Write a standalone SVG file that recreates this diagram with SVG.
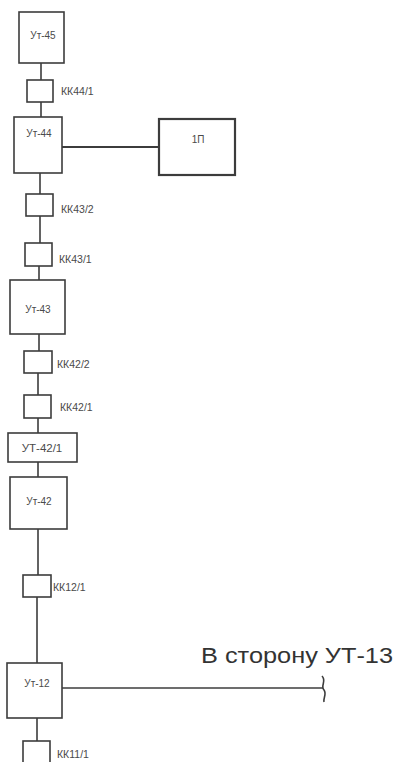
<svg xmlns="http://www.w3.org/2000/svg" width="398" height="762" viewBox="0 0 398 762">
<style>
.box{fill:#ffffff;stroke:#3c3c3c;stroke-width:1.6}
.ln{fill:none;stroke:#3c3c3c;stroke-width:1.6}
.t{font-family:"Liberation Sans",Arial,sans-serif;font-size:10px;fill:#4a4a4a;text-anchor:middle}
.lb{font-family:"Liberation Sans",Arial,sans-serif;font-size:10.5px;fill:#4a4a4a}
.big{font-family:"Liberation Sans",Arial,sans-serif;font-size:22px;fill:#333333}
</style>
<rect width="398" height="762" fill="#ffffff"/>
<g id="connectors">
<line class="ln" x1="41" y1="63" x2="41" y2="80"/>
<line class="ln" x1="41" y1="102" x2="41" y2="117"/>
<line class="ln" x1="62" y1="147" x2="159" y2="147" style="stroke-width:2"/>
<line class="ln" x1="40" y1="173" x2="40" y2="194"/>
<line class="ln" x1="40" y1="216" x2="40" y2="243"/>
<line class="ln" x1="39" y1="266" x2="39" y2="280"/>
<line class="ln" x1="39" y1="334" x2="39" y2="351"/>
<line class="ln" x1="38" y1="373" x2="38" y2="395"/>
<line class="ln" x1="38" y1="418" x2="38" y2="433"/>
<line class="ln" x1="38" y1="462" x2="38" y2="477"/>
<line class="ln" x1="38" y1="529" x2="38" y2="575"/>
<line class="ln" x1="37" y1="597" x2="37" y2="663"/>
<line class="ln" x1="62" y1="688" x2="323" y2="688"/>
<path class="ln" d="M322,676 C327,681 320,686 324,690 C327,694 323,698 324,702"/>
<line class="ln" x1="37" y1="718" x2="37" y2="741"/>
</g>
<g id="ut45"><rect class="box" x="19" y="12" width="45" height="51"/><text class="t" x="43" y="39">Ут-45</text></g>
<g id="kk44-1"><rect class="box" x="27" y="80" width="26" height="22"/><text class="lb" x="61" y="95">КК44/1</text></g>
<g id="ut44"><rect class="box" x="14" y="117" width="48" height="56"/><text class="t" x="39" y="137">Ут-44</text></g>
<g id="p1"><rect class="box" x="159" y="119" width="76" height="56" style="stroke-width:2.2"/><text class="t" x="198" y="143">1П</text></g>
<g id="kk43-2"><rect class="box" x="26" y="194" width="27" height="22"/><text class="lb" x="61" y="213">КК43/2</text></g>
<g id="kk43-1"><rect class="box" x="25" y="243" width="27" height="23"/><text class="lb" x="59" y="263">КК43/1</text></g>
<g id="ut43"><rect class="box" x="10" y="280" width="55" height="54"/><text class="t" x="38" y="313">Ут-43</text></g>
<g id="kk42-2"><rect class="box" x="24" y="351" width="28" height="22"/><text class="lb" x="57" y="368">КК42/2</text></g>
<g id="kk42-1"><rect class="box" x="24" y="395" width="27" height="23"/><text class="lb" x="60" y="411">КК42/1</text></g>
<g id="ut42-1"><rect class="box" x="8" y="433" width="69" height="29"/><text class="t" x="42" y="452" style="font-size:11.5px">УТ-42/1</text></g>
<g id="ut42"><rect class="box" x="10" y="477" width="57" height="52"/><text class="t" x="39" y="505">Ут-42</text></g>
<g id="kk12-1"><rect class="box" x="23" y="575" width="28" height="22"/><text class="lb" x="53" y="591">КК12/1</text></g>
<g id="ut12"><rect class="box" x="7" y="663" width="55" height="55"/><text class="t" x="37" y="687">Ут-12</text></g>
<g id="kk11-1"><rect class="box" x="23" y="741" width="27" height="26"/><text class="lb" x="57" y="758">КК11/1</text></g>
<g id="label-ut13"><text class="big" x="201" y="663" textLength="192" lengthAdjust="spacingAndGlyphs">В сторону УТ-13</text></g>
</svg>
